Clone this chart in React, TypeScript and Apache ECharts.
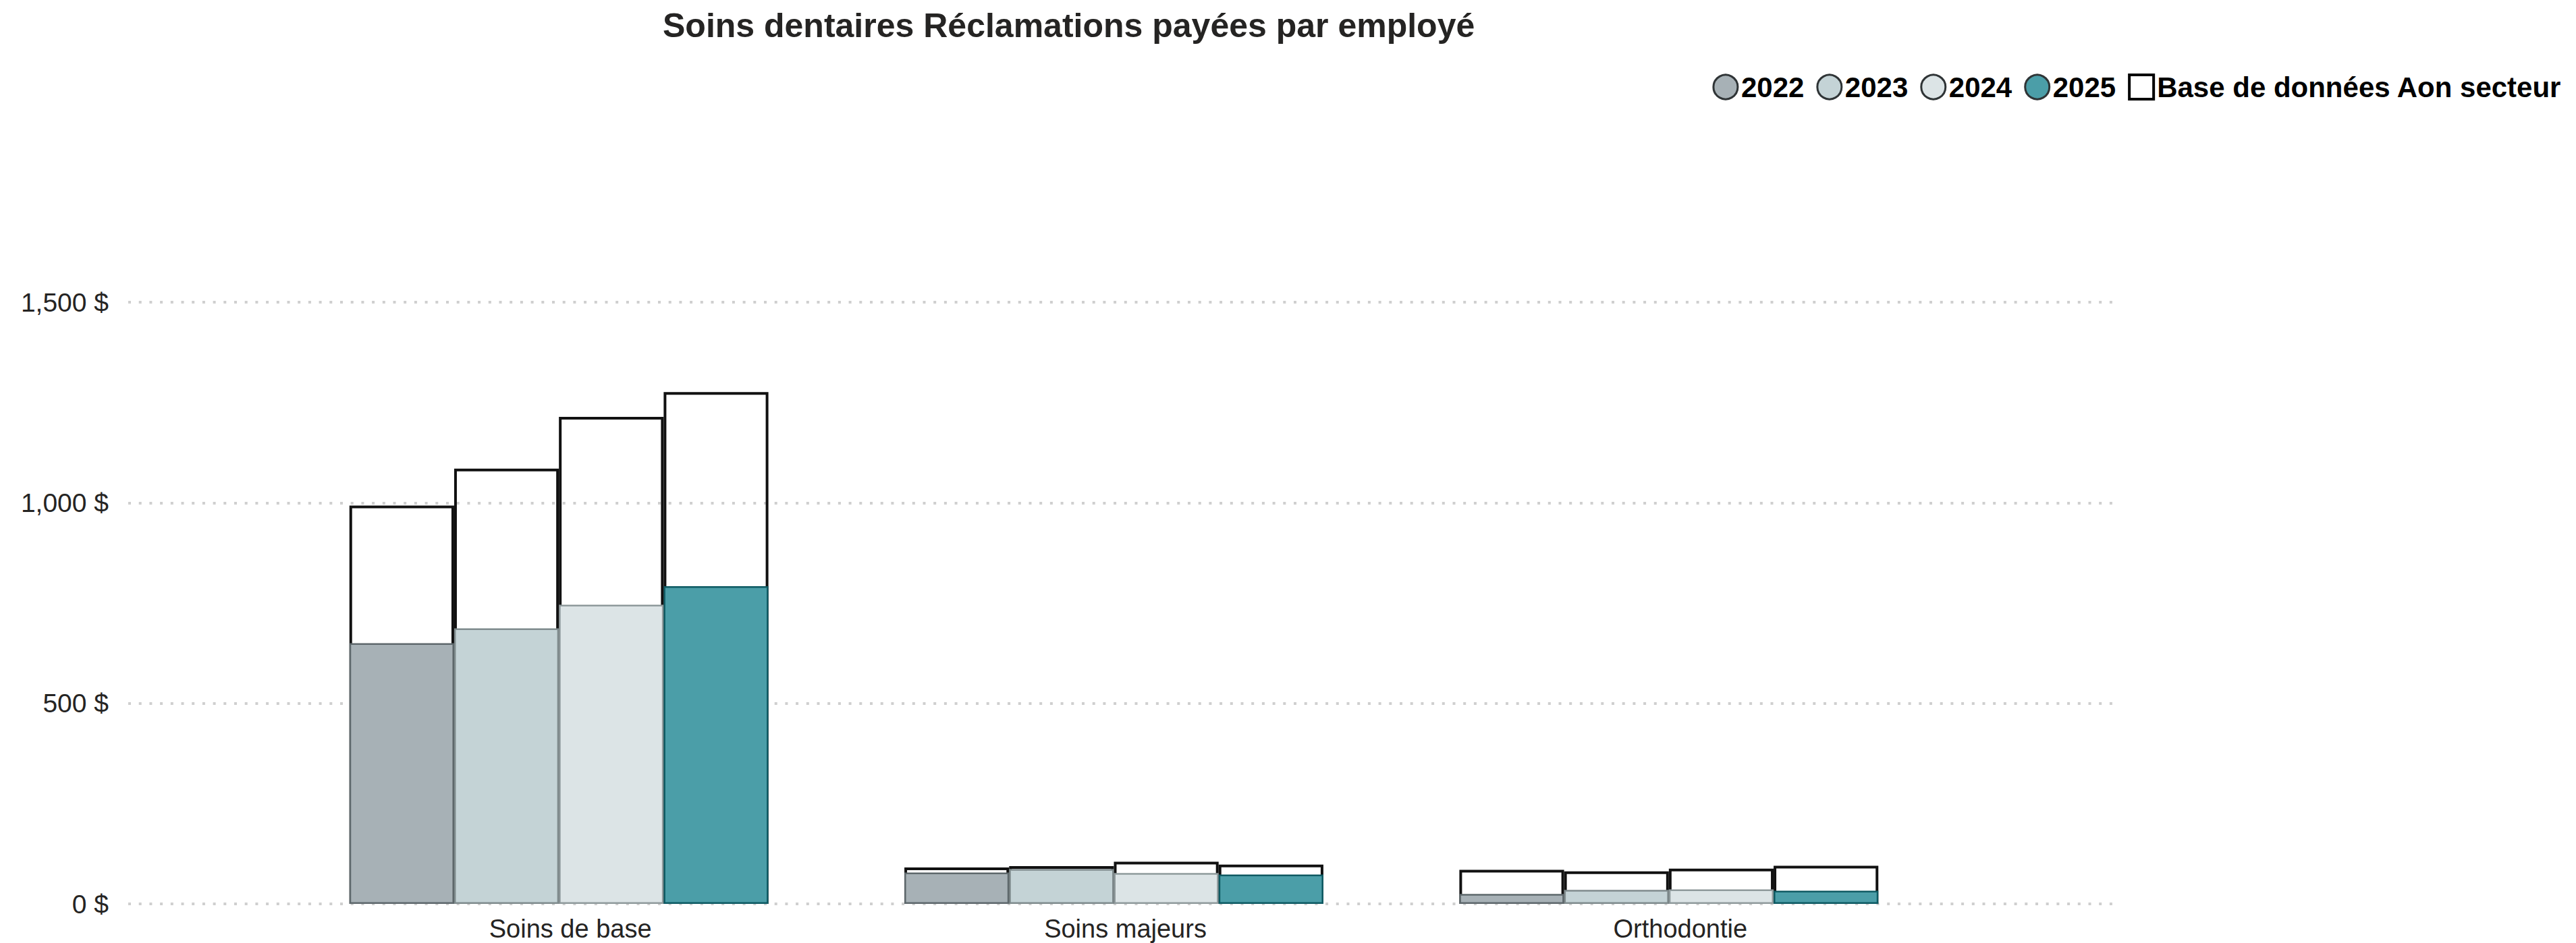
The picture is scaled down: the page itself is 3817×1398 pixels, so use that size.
import React, { useEffect, useRef } from "react";
import * as echarts from "echarts";

const categories = ["Soins de base", "Soins majeurs", "Orthodontie"];
const years = ["2022", "2023", "2024", "2025"];
const benchName = "Base de données Aon secteur";

const claims2022 = [650, 78, 25];
const claims2023 = [687, 87, 35];
const claims2024 = [746, 77, 36];
const claims2025 = [792, 73, 33];

const bench2022 = [993, 91, 85];
const bench2023 = [1085, 94, 81];
const bench2024 = [1214, 105, 88];
const bench2025 = [1276, 98, 95];

const yTicks = [0, 500, 1000, 1500];

const claims = [claims2022, claims2023, claims2024, claims2025];
const benches = [bench2022, bench2023, bench2024, bench2025];
const fillColors = ["#a7b1b6", "#c4d3d6", "#dce4e6", "#4b9ea8"];
const borderColors = ["#5e686c", "#7f8b8d", "#8f9a9c", "#0e5a63"];

const FONT = "'Liberation Sans', Arial, sans-serif";

function fmt(v: number) {
  const s = String(Math.round(v)).replace(/\B(?=(\d{3})+(?!\d))/g, ",");
  return s + " $";
}

export default function App() {
  const ref = useRef<HTMLDivElement>(null);
  useEffect(() => {
    if (!ref.current) return;
    const chart = echarts.init(ref.current, undefined, { renderer: "svg" });
    const yMax = yTicks[yTicks.length - 1];
    const fillSeries = years.map((y, i) => ({
      name: y,
      type: "bar",
      xAxisIndex: 1,
      yAxisIndex: 1,
      data: claims[i],
      barGap: "0%",
      barCategoryGap: "24.5%",
      z: 3,
      itemStyle: { color: fillColors[i], borderColor: borderColors[i], borderWidth: 2.5 },
    }));
    const benchSeries = years.map((y, i) => ({
      name: benchName,
      type: "bar",
      xAxisIndex: 2,
      yAxisIndex: 1,
      data: benches[i],
      barGap: "0%",
      barCategoryGap: "24.5%",
      z: 2,
      itemStyle: { color: "rgba(0,0,0,0)", borderColor: "#111111", borderWidth: 4 },
    }));
    chart.setOption({
      animation: false,
      backgroundColor: "#ffffff",
      title: {
        text: "Soins dentaires Réclamations payées par employé",
        left: 977,
        top: 8,
        textStyle: { fontFamily: FONT, fontSize: 50, fontWeight: "bold", color: "#252423" },
      },
      legend: {
        right: 16,
        top: 103,
        itemWidth: 36,
        itemHeight: 36,
        itemGap: 18,
        textStyle: { fontFamily: FONT, fontSize: 42, fontWeight: "bold", color: "#000000" },
        data: [
          ...years.map((y, i) => ({
            name: y,
            icon: "circle",
            itemStyle: { color: fillColors[i], borderColor: "#2f3436", borderWidth: 3 },
          })),
          { name: benchName, icon: "rect", itemStyle: { color: "#ffffff", borderColor: "#000000", borderWidth: 4 } },
        ],
      },
      grid: [
        { left: 190, right: 683, top: 448, bottom: 58 },
        { left: 417, right: 933, top: 448, bottom: 58 },
      ],
      xAxis: [
        { type: "value", gridIndex: 0, show: false, min: 0, max: 1 },
        {
          type: "category",
          gridIndex: 1,
          data: categories,
          axisLine: { show: false },
          axisTick: { show: false },
          axisLabel: { fontFamily: FONT, fontSize: 38, color: "#252423", margin: 18, padding: [0, 0, 0, 34] },
        },
        { type: "category", gridIndex: 1, data: categories, show: false },
      ],
      yAxis: [
        {
          type: "value",
          gridIndex: 0,
          min: 0,
          max: yMax,
          interval: 500,
          axisLine: { show: false },
          axisTick: { show: false },
          axisLabel: { fontFamily: FONT, fontSize: 39, color: "#252423", margin: 29, formatter: (v: number) => fmt(v) },
          splitLine: { show: true, lineStyle: { color: "#cfcfcf", width: 4, type: [4, 11.7] } },
        },
        { type: "value", gridIndex: 1, min: 0, max: yMax, show: false },
      ],
      series: [...benchSeries, ...fillSeries],
    });
    return () => chart.dispose();
  }, []);
  return <div ref={ref} style={{ position: "absolute", left: 0, top: 0, width: 3817, height: 1398 }} />;
}
